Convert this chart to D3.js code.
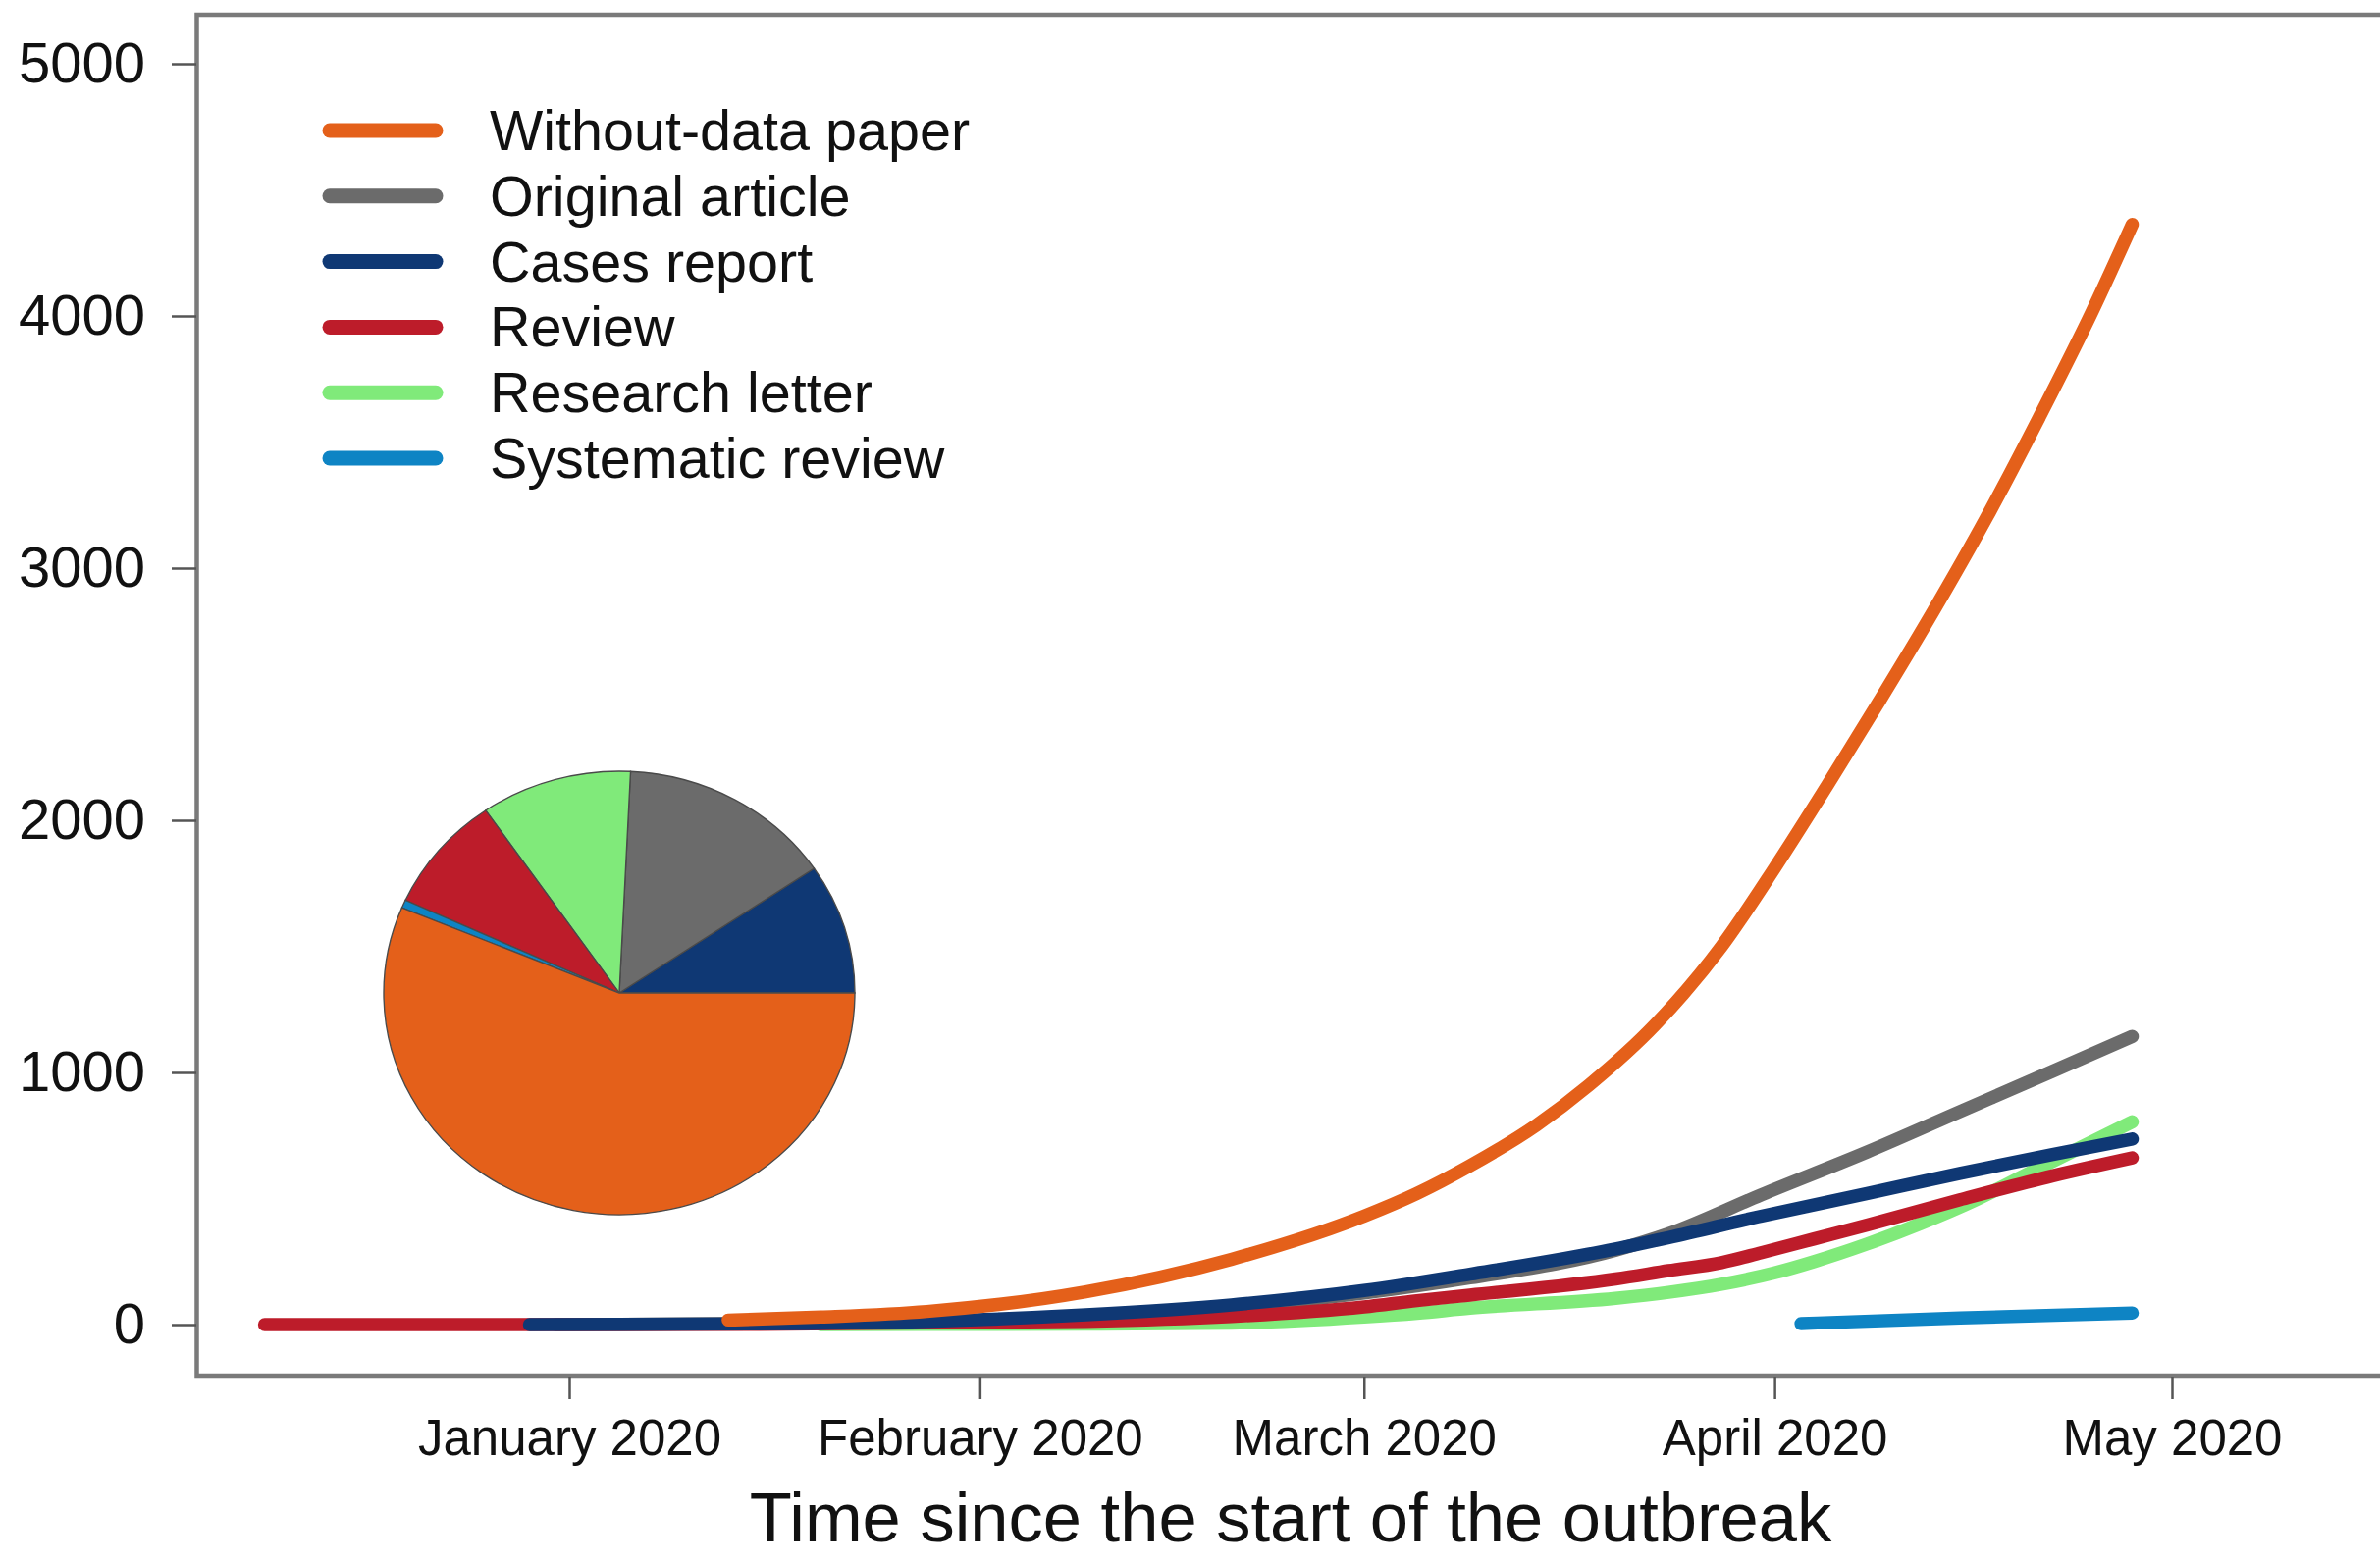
<!DOCTYPE html>
<html>
<head>
<meta charset="utf-8">
<script src="https://cdn.jsdelivr.net/npm/d3@7"></script>
<style>
  html, body { margin: 0; padding: 0; background: #fff; }
  svg { display: block; font-family: "Liberation Sans", Arial, sans-serif; }
</style>
</head>
<body>
<div id="chart"></div>
<script>
// cumulative number of papers
const withoutData = [
  ['2020-01-13', 18], ['2020-01-20', 30], ['2020-01-28', 52], ['2020-02-09', 130],
  ['2020-02-20', 259], ['2020-03-01', 430], ['2020-03-05', 520], ['2020-03-09', 630],
  ['2020-03-14', 790], ['2020-03-18', 950], ['2020-03-23', 1190], ['2020-03-28', 1500],
  ['2020-04-01', 1810], ['2020-04-05', 2140], ['2020-04-09', 2480], ['2020-04-13', 2830],
  ['2020-04-17', 3200], ['2020-04-21', 3600], ['2020-04-25', 4020], ['2020-04-28', 4363]
];
const originalArticle = [
  ['2019-12-31', 0], ['2020-01-28', 10], ['2020-02-20', 70], ['2020-03-01', 125],
  ['2020-03-09', 185], ['2020-03-20', 295], ['2020-03-24', 360], ['2020-03-31', 515],
  ['2020-04-08', 685], ['2020-04-15', 845], ['2020-04-22', 1005], ['2020-04-28', 1143]
];
const casesReport = [
  ['2019-12-29', 0], ['2020-01-15', 3], ['2020-01-28', 13], ['2020-02-09', 39],
  ['2020-02-20', 78], ['2020-03-01', 135], ['2020-03-09', 200], ['2020-03-20', 300],
  ['2020-03-24', 345], ['2020-03-31', 430], ['2020-04-08', 520], ['2020-04-15', 600],
  ['2020-04-22', 675], ['2020-04-28', 736]
];
const review = [
  ['2019-12-09', 0], ['2020-01-15', 1], ['2020-02-09', 13], ['2020-02-20', 32],
  ['2020-03-01', 70], ['2020-03-05', 95], ['2020-03-09', 117], ['2020-03-20', 181],
  ['2020-03-24', 214], ['2020-03-28', 246], ['2020-03-31', 285], ['2020-04-04', 340],
  ['2020-04-08', 395], ['2020-04-15', 495], ['2020-04-22', 590], ['2020-04-28', 661]
];
const researchLetter = [
  ['2020-01-20', 0], ['2020-02-09', 2], ['2020-02-20', 6], ['2020-03-01', 30],
  ['2020-03-05', 45], ['2020-03-09', 65], ['2020-03-20', 104], ['2020-03-24', 128],
  ['2020-03-28', 160], ['2020-04-01', 205], ['2020-04-04', 250], ['2020-04-08', 320],
  ['2020-04-12', 400], ['2020-04-16', 490], ['2020-04-20', 595], ['2020-04-24', 700],
  ['2020-04-28', 804]
];
const systematicReview = [
  ['2020-04-03', 4], ['2020-04-15', 26], ['2020-04-28', 46]
];

const seriesNames = ['Without-data paper', 'Original article', 'Cases report',
  'Review', 'Research letter', 'Systematic review'];
const seriesValues = [withoutData, originalArticle, casesReport, review, researchLetter, systematicReview];
const seriesColors = ['#e4601a', '#6b6b6b', '#0f3874', '#bd1c2a', '#80ea7a', '#0e84c4'];

// bottom-to-top drawing order of the lines
const drawOrder = ['Research letter', 'Original article', 'Review', 'Cases report',
  'Without-data paper', 'Systematic review'];
// pie slices, counter-clockwise from 3 o'clock
const pieOrder = ['Cases report', 'Original article', 'Research letter', 'Review',
  'Systematic review', 'Without-data paper'];

const yTicks = [0, 1000, 2000, 3000, 4000, 5000];
const xTicks = ['2020-01-01', '2020-02-01', '2020-03-01', '2020-04-01', '2020-05-01'];
const xTitle = 'Time since the start of the outbreak';

const width = 2425, height = 1594;
const parse = d3.utcParse('%Y-%m-%d');
const colorOf = name => seriesColors[seriesNames.indexOf(name)];
const valuesOf = name => seriesValues[seriesNames.indexOf(name)];

const svg = d3.select('#chart')
  .append('svg')
  .attr('width', width)
  .attr('height', height);

const x = d3.scaleUtc()
  .domain([parse('2020-01-01'), parse('2020-05-01')])
  .range([580, 2213]);

const y = d3.scaleLinear()
  .domain([0, 5000])
  .range([1350, 65]);

// frame (right side runs off the picture)
svg.append('rect')
  .attr('x', 200.5)
  .attr('y', 15)
  .attr('width', 2300)
  .attr('height', 1387)
  .attr('fill', 'none')
  .attr('stroke', '#7a7a7a')
  .attr('stroke-width', 4.5);

const yAxis = svg.append('g')
  .attr('transform', 'translate(200,0)')
  .call(d3.axisLeft(y)
    .tickValues(yTicks)
    .tickFormat(d3.format('d'))
    .tickSize(25)
    .tickPadding(27));

const xAxis = svg.append('g')
  .attr('transform', 'translate(0,1403)')
  .call(d3.axisBottom(x)
    .tickValues(xTicks.map(parse))
    .tickFormat(d3.utcFormat('%B %Y'))
    .tickSize(23)
    .tickPadding(21));

[yAxis, xAxis].forEach(g => {
  g.select('.domain').remove();
  g.selectAll('.tick line').attr('stroke', '#555').attr('stroke-width', 2.5);
  g.selectAll('.tick text').attr('fill', '#111').style('font-family', '"Liberation Sans", Arial, sans-serif');
});
yAxis.selectAll('.tick text').attr('font-size', 58);
xAxis.selectAll('.tick text').attr('font-size', 51);

svg.append('text')
  .attr('x', 1315)
  .attr('y', 1571)
  .attr('text-anchor', 'middle')
  .attr('font-size', 70.5)
  .attr('fill', '#111')
  .text(xTitle);

// lines
const line = d3.line()
  .x(d => x(parse(d[0])))
  .y(d => y(d[1]))
  .curve(d3.curveMonotoneX);

svg.append('g')
  .selectAll('path')
  .data(drawOrder)
  .enter()
  .append('path')
  .attr('d', name => line(valuesOf(name)))
  .attr('fill', 'none')
  .attr('stroke', name => colorOf(name))
  .attr('stroke-width', 13.5)
  .attr('stroke-linecap', 'round')
  .attr('stroke-linejoin', 'round');

// pie of final totals
const totals = pieOrder.map(name => {
  const s = valuesOf(name);
  return { name, value: s[s.length - 1][1] };
});
const pie = d3.pie()
  .sort(null)
  .value(d => d.value)
  .startAngle(Math.PI / 2)
  .endAngle(Math.PI / 2 - 2 * Math.PI);
const arc = d3.arc().innerRadius(0).outerRadius(226);

svg.append('g')
  .attr('transform', `translate(631,1012) scale(${240 / 226},1)`)
  .selectAll('path')
  .data(pie(totals))
  .enter()
  .append('path')
  .attr('d', arc)
  .attr('fill', d => colorOf(d.data.name))
  .attr('stroke', '#4a4a4a')
  .attr('stroke-width', 1.3);

// legend
const legend = svg.append('g')
  .selectAll('g')
  .data(seriesNames)
  .enter()
  .append('g')
  .attr('transform', (d, i) => `translate(0,${133 + i * 66.8})`);

legend.append('line')
  .attr('x1', 336)
  .attr('x2', 444)
  .attr('stroke', d => colorOf(d))
  .attr('stroke-width', 15)
  .attr('stroke-linecap', 'round');

legend.append('text')
  .attr('x', 499)
  .attr('y', 20)
  .attr('font-size', 57.5)
  .attr('fill', '#111')
  .text(d => d);
</script>
</body>
</html>
